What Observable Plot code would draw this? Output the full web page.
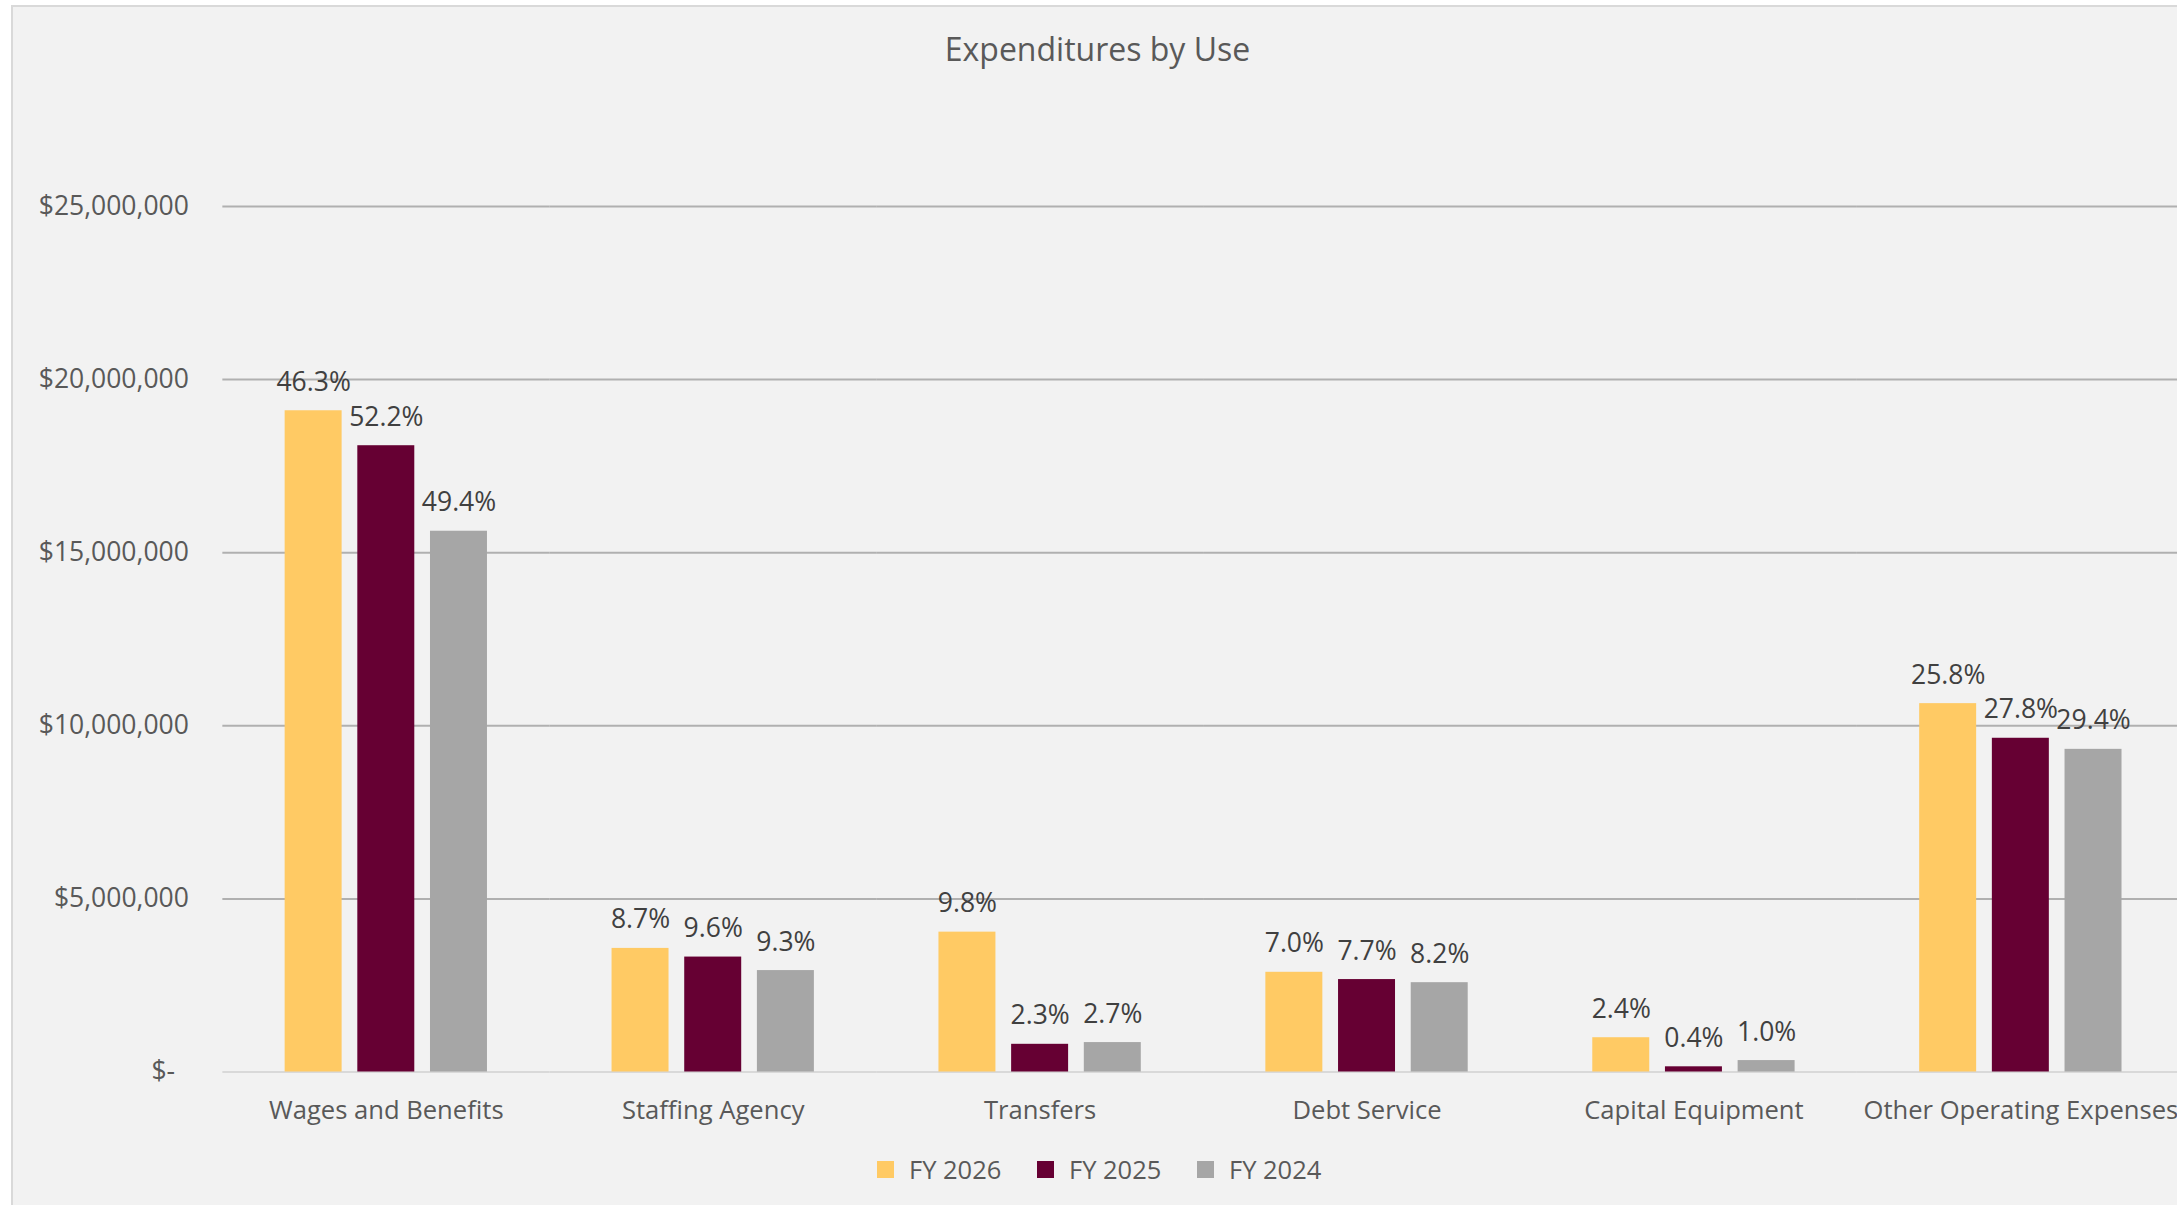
<!DOCTYPE html>
<html>
<head>
<meta charset="utf-8">
<script src="https://cdn.jsdelivr.net/npm/d3@7"></script>
<script src="https://cdn.jsdelivr.net/npm/@observablehq/plot@0.6"></script>
<style>
  html, body { margin: 0; padding: 0; background: #ffffff; overflow: hidden; width: 2177px; height: 1205px; }
  #frame { position: absolute; left: 11px; top: 5px; width: 2200px; height: 1230px; background: #f2f2f2; border-left: 2px solid #d9d9d9; border-top: 2px solid #d9d9d9; }
  #title { position: absolute; left: 0; width: 2195px; top: 29px; text-align: center; font-family: 'Open Sans', sans-serif; font-size: 32px; line-height: 40px; color: #595959; }
  #chart { position: absolute; left: 0; top: 100px; }
  #legend { position: absolute; left: 877px; top: 1154px; display: flex; align-items: center; height: 30px; font-family: 'Open Sans', sans-serif; font-size: 25.5px; line-height: 30px; color: #595959; }
  .item { display: flex; align-items: center; width: 160px; }
  .item:last-child { width: auto; }
  .sw { width: 17px; height: 17px; margin-right: 15px; }
</style>
</head>
<body>
<div id="frame"></div>
<div id="title">Expenditures by Use</div>
<div id="chart"></div>
<div id="legend"></div>
<script>
const categories = ["Wages and Benefits", "Staffing Agency", "Transfers", "Debt Service", "Capital Equipment", "Other Operating Expenses"];
const years = ["FY 2026", "FY 2025", "FY 2024"];
const colors = ["#ffca64", "#660033", "#a6a6a6"];
const fy2026 = [19100000, 3570000, 4040000, 2880000, 990000, 10640000];
const fy2025 = [18090000, 3320000, 800000, 2670000, 150000, 9640000];
const fy2024 = [15620000, 2930000, 850000, 2580000, 330000, 9320000];
const pct2026 = ["46.3%", "8.7%", "9.8%", "7.0%", "2.4%", "25.8%"];
const pct2025 = ["52.2%", "9.6%", "2.3%", "7.7%", "0.4%", "27.8%"];
const pct2024 = ["49.4%", "9.3%", "2.7%", "8.2%", "1.0%", "29.4%"];
const yTicks = [0, 5000000, 10000000, 15000000, 20000000, 25000000];

const series = [fy2026, fy2025, fy2024];
const pcts = [pct2026, pct2025, pct2024];
const data = [];
categories.forEach((c, i) => {
  years.forEach((y, j) => {
    data.push({category: c, year: y, value: series[j][i], label: pcts[j][i]});
  });
});

const fmt = d => d === 0 ? "$-\u00a0\u00a0" : "$" + d3.format(",")(d);

const chart = Plot.plot({
  width: 2190,
  height: 1040,
  marginTop: 106,
  marginBottom: 68.5,
  marginLeft: 222.35,
  marginRight: 6.2,
  style: {background: "transparent", maxWidth: "none", overflow: "visible", fontFamily: "'Open Sans', sans-serif", fontSize: "26.5px", color: "#595959"},
  fx: {domain: categories, padding: 0, round: false, axis: null},
  x: {domain: years, paddingInner: 0.216, paddingOuter: 0.857, round: false, axis: null},
  y: {domain: [0, 25000000], axis: null},
  color: {domain: years, range: colors},
  marks: [
    Plot.gridY(yTicks.filter(d => d > 0), {stroke: "#b0b0b0", strokeOpacity: 1, strokeWidth: 2}),
    Plot.ruleY([0], {stroke: "#d9d9d9", strokeWidth: 2}),
    Plot.axisY(yTicks, {tickFormat: fmt, tickSize: 0, tickPadding: 34, label: null, fontSize: 26.5, fill: "#595959"}),
    Plot.axisFx({anchor: "bottom", tickSize: 0, tickPadding: 28.5, label: null, fontSize: 25.6, fill: "#595959"}),
    Plot.barY(data, {fx: "category", x: "year", y: "value", fill: "year"}),
    Plot.text(data, {fx: "category", x: "year", y: "value", text: "label", lineAnchor: "bottom", dy: -20, fill: "#404040", fontSize: 26.5})
  ]
});
document.getElementById("chart").appendChild(chart);

const legend = document.getElementById("legend");
years.forEach((y, j) => {
  const item = document.createElement("div");
  item.className = "item";
  const sw = document.createElement("div");
  sw.className = "sw";
  sw.style.background = colors[j];
  const t = document.createElement("span");
  t.textContent = y;
  item.appendChild(sw);
  item.appendChild(t);
  legend.appendChild(item);
});
</script>
</body>
</html>
